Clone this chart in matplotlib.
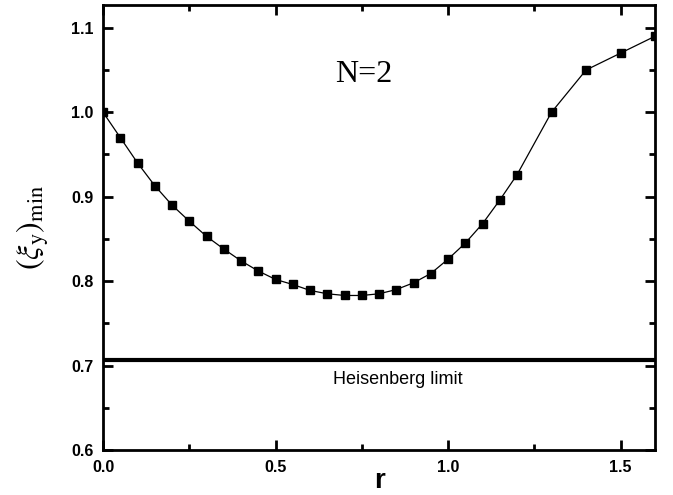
import numpy as np
from matplotlib import pyplot as plt
from matplotlib.ticker import MultipleLocator

# squeezing parameter r and minimal xi_y (N=2)
r = [0.0, 0.05, 0.10, 0.15, 0.20, 0.25, 0.30, 0.35, 0.40, 0.45, 0.50,
     0.55, 0.60, 0.65, 0.70, 0.75, 0.80, 0.85, 0.90, 0.95, 1.00,
     1.05, 1.10, 1.15, 1.20, 1.30, 1.40, 1.50, 1.60]
xi_min = [1.000, 0.970, 0.940, 0.913, 0.890, 0.871, 0.853, 0.838, 0.824,
          0.812, 0.802, 0.796, 0.789, 0.785, 0.783, 0.783, 0.785, 0.790,
          0.798, 0.809, 0.826, 0.845, 0.868, 0.896, 0.926, 1.000, 1.050,
          1.070, 1.090]

heisenberg = 1/np.sqrt(2)

plt.rcParams['mathtext.fontset'] = 'stix'

fig = plt.figure(figsize=(6.73, 4.95), dpi=100)
ax = fig.add_axes([0.1531, 0.0909, 0.8202, 0.899])

ax.plot(r, xi_min, color='black', lw=0.9, marker='s', markersize=5.5)
ax.axhline(heisenberg, color='black', lw=3)

ax.set_xlim(0, 1.6)
ax.set_ylim(0.6, 1.127)

ax.xaxis.set_major_locator(MultipleLocator(0.5))
ax.xaxis.set_minor_locator(MultipleLocator(0.25))
ax.yaxis.set_major_locator(MultipleLocator(0.1))
ax.yaxis.set_minor_locator(MultipleLocator(0.05))
ax.tick_params(which='both', direction='in', top=True, right=True, width=2)
ax.tick_params(which='major', length=7, labelsize=11.5, pad=7)
ax.tick_params(which='minor', length=4)
for lab in ax.get_xticklabels() + ax.get_yticklabels():
    lab.set_fontweight('bold')
    lab.set_fontfamily('Liberation Sans')
for sp in ax.spines.values():
    sp.set_linewidth(2)

ax.set_xlabel('r', fontsize=20, fontweight='bold', family='Liberation Sans',
              labelpad=-5)
ax.set_ylabel(r'$(\xi_{\mathrm{y}})_{\mathrm{min}}$', fontsize=23, labelpad=14)

ax.text(0.756, 1.045, 'N=2', fontsize=23, family='Liberation Serif',
        ha='center', va='center')
ax.text(0.855, 0.683, 'Heisenberg limit', fontsize=13,
        family='Liberation Sans', ha='center', va='center')

plt.savefig('out.png', dpi=100)
